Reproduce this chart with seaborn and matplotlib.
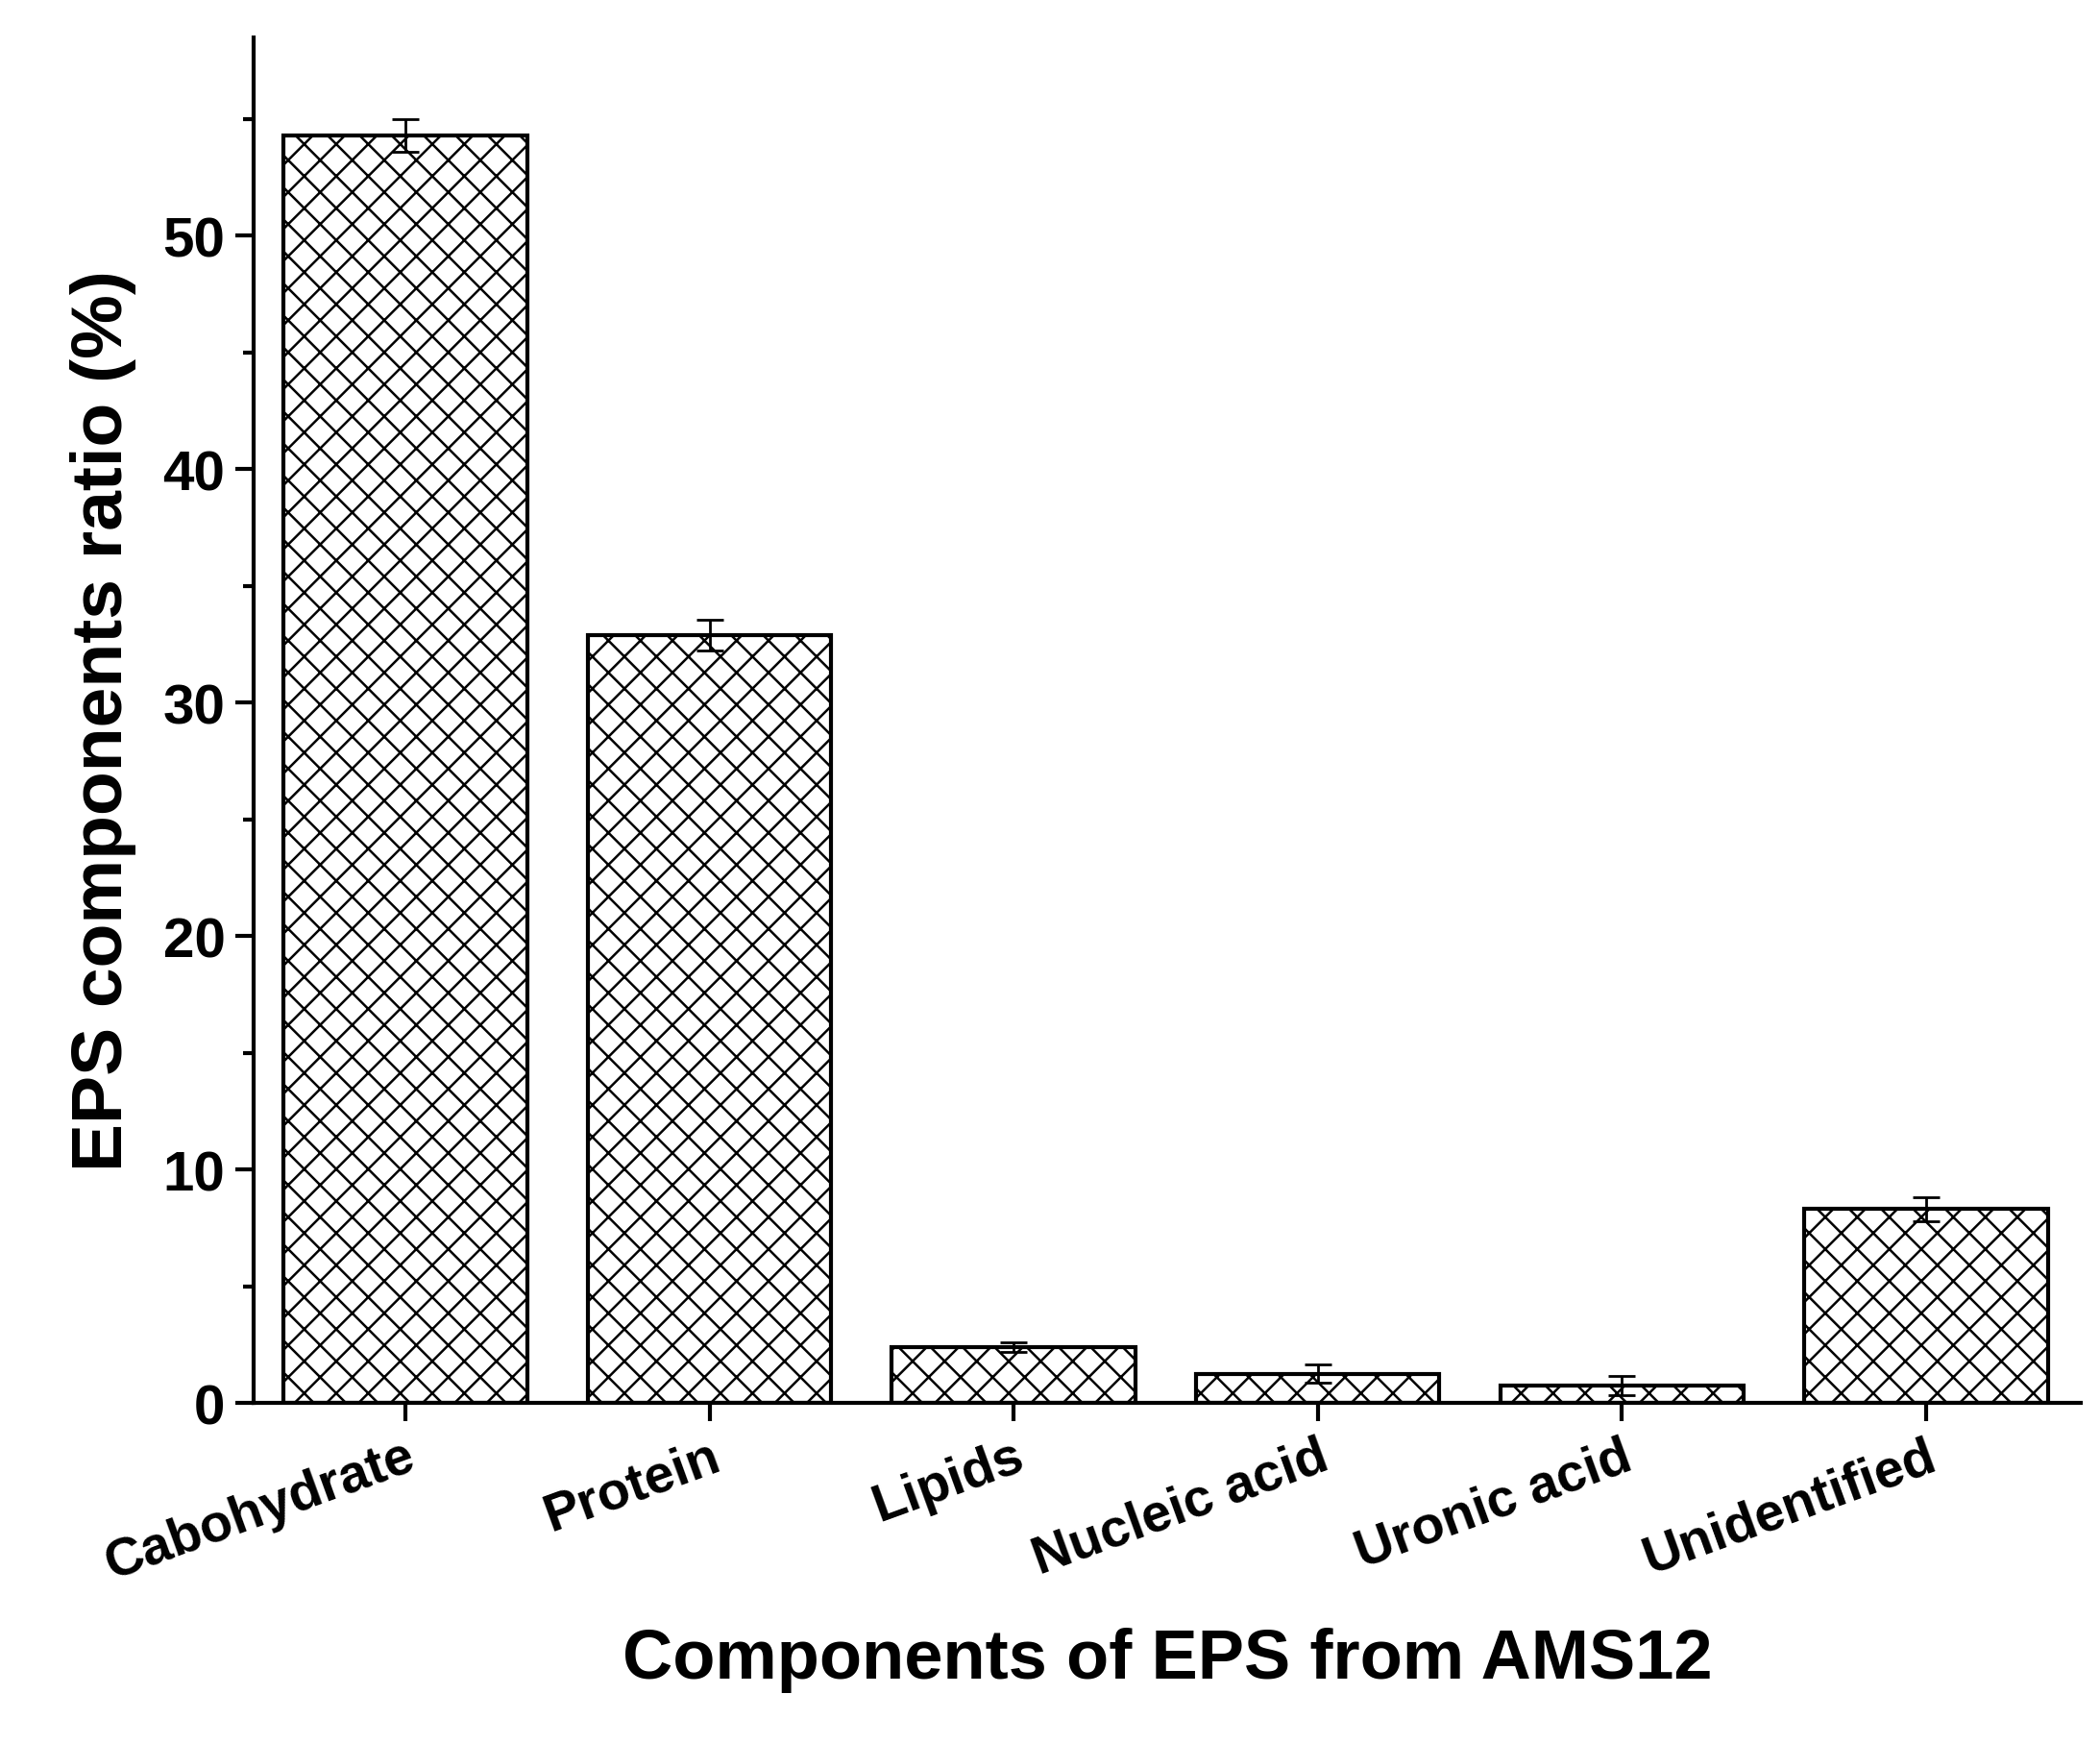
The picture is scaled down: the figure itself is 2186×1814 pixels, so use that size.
import matplotlib
matplotlib.use("Agg")
import matplotlib.pyplot as plt
import seaborn as sns
import pandas as pd
from matplotlib.ticker import MultipleLocator

components = ["Cabohydrate", "Protein", "Lipids", "Nucleic acid", "Uronic acid", "Unidentified"]
ratios = [54.3, 32.9, 2.4, 1.25, 0.75, 8.3]
errors = [0.7, 0.65, 0.2, 0.4, 0.4, 0.5]

sns.set_theme(style="ticks")
plt.rcParams["font.family"] = ["Liberation Sans", "DejaVu Sans"]
plt.rcParams["font.weight"] = "bold"
plt.rcParams["hatch.linewidth"] = 0.9
plt.rcParams["text.color"] = "black"
plt.rcParams["axes.labelcolor"] = "black"
plt.rcParams["xtick.color"] = "black"
plt.rcParams["ytick.color"] = "black"

df = pd.DataFrame({"component": components, "ratio": ratios})

fig = plt.figure(figsize=(10.93, 9.075), dpi=200)
ax = fig.add_axes([0.1206, 0.195, 0.8704, 0.783])

sns.barplot(data=df, x="component", y="ratio", color="white", edgecolor="black",
            linewidth=1.5, width=0.8, errorbar=None, ax=ax)
for p in ax.patches:
    p.set_hatch("xx")
ax.errorbar(range(len(components)), ratios, yerr=errors, fmt="none",
            ecolor="black", elinewidth=1, capsize=5, capthick=1)

ax.set_xlim(-0.5, 5.51)
ax.set_ylim(0, 58.5)
ax.yaxis.set_major_locator(MultipleLocator(10))
ax.yaxis.set_minor_locator(MultipleLocator(5))
ax.tick_params(axis="both", which="major", direction="out", length=7, width=1.5, labelsize=21)
ax.tick_params(axis="y", which="minor", direction="out", length=4, width=1.5)
ax.tick_params(axis="x", which="major", labelsize=20)
plt.setp(ax.get_xticklabels(), rotation=20, ha="right", rotation_mode="anchor", fontweight="bold")
plt.setp(ax.get_yticklabels(), fontweight="bold")

for s in ["top", "right"]:
    ax.spines[s].set_visible(False)
for s in ["left", "bottom"]:
    ax.spines[s].set_linewidth(1.5)
    ax.spines[s].set_color("black")

ax.set_xlabel("Components of EPS from AMS12", fontsize=26, fontweight="bold", labelpad=14)
ax.set_ylabel("EPS components ratio (%)", fontsize=27, fontweight="bold", labelpad=10)

fig.savefig("out.png", dpi=200)
